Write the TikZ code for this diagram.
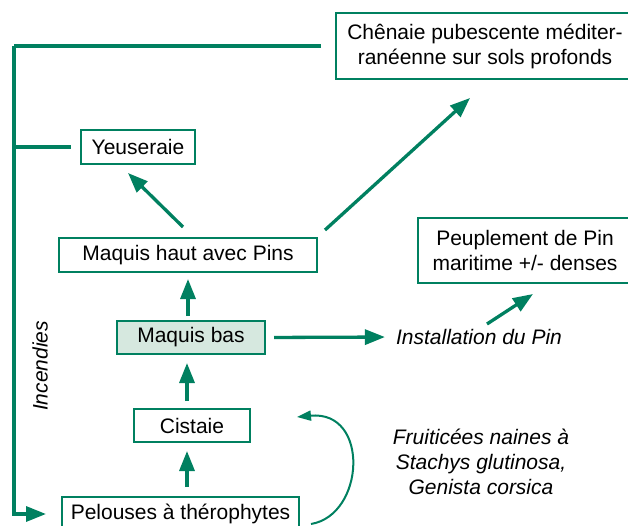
\documentclass[tikz,border=0pt]{standalone}
\usepackage{fontspec}
\setmainfont{Liberation Sans}
\usetikzlibrary{arrows.meta,calc}
\definecolor{dgreen}{RGB}{0,128,96}
\definecolor{lgreen}{RGB}{214,232,223}
\begin{document}
\begin{tikzpicture}[x=1pt,y=-1pt,
  box/.style={draw=dgreen, line width=2pt, inner sep=0pt, align=center,
    font=\fontsize{21}{25}\selectfont},
  lab/.style={inner sep=0pt, align=center, font=\fontsize{21}{25}\selectfont\itshape},
  conn/.style={draw=dgreen, line width=3.3pt},
  arr/.style={conn, -{Triangle[length=20pt,width=15pt]}},
  thinarr/.style={draw=dgreen, line width=2pt, -{Triangle[length=14pt,width=10pt]}}]
\useasboundingbox (0,0) rectangle (628,526);
% nodes
\node[box, minimum width=298pt, minimum height=66pt] (che) at (485,46)
  {Chênaie pubescente méditer-\\ranéenne sur sols profonds};
\node[box, minimum width=114pt, minimum height=34pt] (yeu) at (138,147) {Yeuseraie};
\node[box, minimum width=258pt, minimum height=34pt] (mh) at (188,255) {Maquis haut avec Pins};
\node[box, fill=lgreen, minimum width=148pt, minimum height=33pt] (mb) at (191,337.5) {Maquis bas};
\node[box, minimum width=116pt, minimum height=33pt] (cis) at (192,425.5) {Cistaie};
\node[box, minimum width=237pt, minimum height=34pt] (pel) at (180.5,514) {Pelouses à thérophytes};
\node[box, minimum width=214pt, minimum height=65pt] (peu) at (525,250.5)
  {Peuplement de Pin\\maritime +/- denses};
\node[lab] (inst) at (479,337) {Installation du Pin};
\node[lab] (fru) at (481,462) {Fruiticées naines à\\Stachys glutinosa,\\Genista corsica};
\node[lab, rotate=90] (inc) at (40,366) {Incendies};
% coordinates
\coordinate (tl) at (14,46);
\coordinate (curvend) at (297,417);
% connectors
\draw[conn] ([xshift=-14pt]che.west) -- (tl);
\draw[arr, shorten >=15pt] (tl) |- (pel.west);
\draw[conn] (yeu.west -| tl) -- ([xshift=-9pt]yeu.west);
\draw[arr, shorten <=4pt, shorten >=6pt] (mb.north -| mh.south) -- (mh.south);
\draw[arr, shorten <=7pt, shorten >=8pt] ([xshift=-5pt]cis.north) -- ([xshift=-4pt]mb.south);
\draw[arr, shorten <=9pt, shorten >=8pt] ([xshift=-5pt]pel.north -| cis.north) -- ([xshift=-5pt]cis.south);
\draw[arr] ($(mh.north)+(-5,-10)$) -- ($(yeu.south)+(-10,8)$);
\draw[arr] ($(mh.north east)+(7,-7)$) -- ($(che.south)+(-15,18)$);
\draw[arr, shorten <=8pt, shorten >=11pt] (mb.east) -- (inst.west);
\draw[arr] ($(inst.center)+(8,-13)$) -- ($(peu.south)+(8,10)$);
\draw[thinarr] ($(pel.east)+(11,10)$) .. controls (365,515) and (370,410) .. (curvend);
\end{tikzpicture}
\end{document}
